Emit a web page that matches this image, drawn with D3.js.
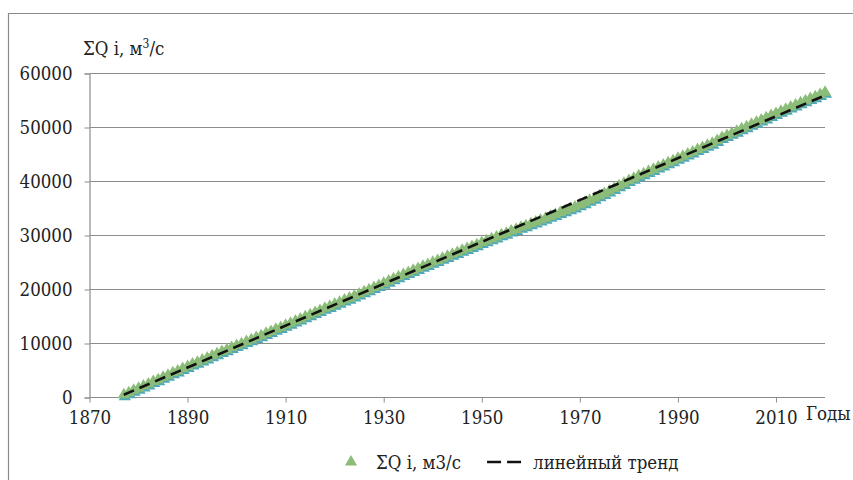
<!DOCTYPE html>
<html>
<head>
<meta charset="utf-8">
<script src="https://cdn.jsdelivr.net/npm/d3@7"></script>
<style>
  body { margin: 0; background: #fff; }
</style>
</head>
<body>
<div id="chart"></div>
<script>
// years of the series
var years = d3.range(1877, 2021);
// cumulative discharge ΣQ i, m3/s
var sumQ = [
  400, 780, 1230, 1600, 2050, 2420, 2860, 3200, 3650, 4020,
  4480, 4830, 5260, 5640, 6100, 6420, 6870, 7230, 7640, 7990,
  8420, 8760, 9180, 9520, 9870, 10280, 10610, 11020, 11360, 11780,
  12120, 12530, 12880, 13300, 13650, 14080, 14450, 14860, 15220, 15650,
  16010, 16420, 16780, 17200, 17540, 17960, 18310, 18720, 19080, 19500,
  19850, 20280, 20640, 21080, 21460, 21910, 22260, 22690, 23040, 23450,
  23790, 24210, 24550, 24960, 25290, 25710, 26040, 26440, 26770, 27180,
  27500, 27890, 28210, 28600, 28930, 29320, 29640, 30030, 30340, 30730,
  31040, 31420, 31730, 32100, 32420, 32790, 33100, 33480, 33790, 34170,
  34480, 34880, 35200, 35620, 35980, 36430, 36800, 37280, 37680, 38160,
  38600, 39120, 39560, 40080, 40500, 40960, 41340, 41780, 42150, 42580,
  42950, 43390, 43760, 44200, 44570, 45010, 45380, 45820, 46190, 46640,
  47010, 47480, 48050, 48430, 48860, 49230, 49670, 50040, 50490, 50860,
  51310, 51690, 52140, 52500, 52930, 53290, 53720, 54080, 54490, 54850,
  55260, 55620, 56030, 56420
];
var xTicks = [1870, 1890, 1910, 1930, 1950, 1970, 1990, 2010];
var yTicks = [0, 10000, 20000, 30000, 40000, 50000, 60000];
var seriesName = "ΣQ i, м3/с";
var trendName = "линейный тренд";

var W = 853, H = 480;
var FONT = "DejaVu Serif Condensed, DejaVu Serif, serif";
var svg = d3.select("#chart").append("svg")
    .attr("width", W).attr("height", H)
    .style("font-family", FONT);

// pick a font size so that "60000" is about as wide as in the picture
var probe = svg.append("text").style("font-size", "20px").text("60000");
var fs = Math.min(20, 20 * 53 / probe.node().getComputedTextLength());
probe.remove();
var FS = fs.toFixed(1) + "px";

// outer frame (only top and left visible in the picture)
svg.append("path")
    .attr("d", "M8.5," + H + "V13.5H" + W)
    .attr("fill", "none").attr("stroke", "#8a8a8a").attr("stroke-width", 1.2);

var x = d3.scaleLinear().domain([1870, 2020]).range([89.5, 825]);
var y = d3.scaleLinear().domain([0, 60000]).range([397, 73]);

// horizontal grid
svg.append("g").selectAll("line")
    .data(yTicks.slice(1))
    .enter().append("line")
    .attr("x1", x(1870)).attr("x2", x(2020))
    .attr("y1", function (d) { return Math.round(y(d)) + 0.5; })
    .attr("y2", function (d) { return Math.round(y(d)) + 0.5; })
    .attr("stroke", "#8c8c8c").attr("stroke-width", 1);

var yAxis = svg.append("g")
    .attr("transform", "translate(" + x(1870) + ",0.5)")
    .call(d3.axisLeft(y).tickValues(yTicks).tickSize(5).tickPadding(12).tickFormat(d3.format("d")));
var xAxis = svg.append("g")
    .attr("transform", "translate(0," + (y(0) + 0.5) + ")")
    .call(d3.axisBottom(x).tickValues(xTicks).tickSize(5).tickPadding(8).tickFormat(d3.format("d")));
[yAxis, xAxis].forEach(function (a) {
  a.attr("font-family", null).attr("font-size", null);
  a.select(".domain").attr("stroke", "#8c8c8c").attr("stroke-width", 1.2);
  a.selectAll(".tick line").attr("stroke", "#8c8c8c");
  a.selectAll(".tick text").style("font-size", FS).attr("fill", "#222");
});
xAxis.select(".domain").attr("d", "M" + x(1870) + ",0H" + x(2020));

// axis titles
svg.append("text").attr("x", 83).attr("y", 55).style("font-size", FS).attr("fill", "#222")
    .html('ΣQ i, м<tspan dy="-7" style="font-size:' + (fs * 0.65).toFixed(1) + 'px">3</tspan><tspan dy="7">/с</tspan>');
svg.append("text").attr("x", 806).attr("y", 420).style("font-size", FS).attr("fill", "#222").text("Годы");

// markers
var tri = d3.symbol().type(d3.symbolTriangle).size(64);
var pts = years.map(function (yr, i) { return [yr, sumQ[i]]; });
svg.append("g").selectAll("path")
    .data(pts).enter().append("path")
    .attr("d", tri)
    .attr("transform", function (d) { return "translate(" + (x(d[0]) + 1) + "," + (y(d[1]) + 2) + ")"; })
    .attr("fill", "#4fa9b8");
svg.append("g").selectAll("path")
    .data(pts).enter().append("path")
    .attr("d", tri)
    .attr("transform", function (d) { return "translate(" + x(d[0]) + "," + y(d[1]) + ")"; })
    .attr("fill", "#8cbd78");

// least squares linear trend
var mx = d3.mean(years), my = d3.mean(sumQ);
var sxy = d3.sum(years, function (v, i) { return (v - mx) * (sumQ[i] - my); });
var sxx = d3.sum(years, function (v) { return (v - mx) * (v - mx); });
var slope = sxy / sxx, icpt = my - slope * mx;
var ends = [years[0], years[years.length - 1]];
svg.append("path")
    .datum(ends)
    .attr("d", d3.line().x(function (d) { return x(d); }).y(function (d) { return y(icpt + slope * d); }))
    .attr("fill", "none").attr("stroke", "#111").attr("stroke-width", 2.6)
    .attr("stroke-dasharray", "11,6");

// legend, laid out left to right
var lg = svg.append("g").attr("transform", "translate(0,462)");
lg.append("path").attr("d", tri).attr("transform", "translate(351,0)").attr("fill", "#8cbd78");
var t1 = lg.append("text").attr("x", 376).attr("y", 7).style("font-size", FS).attr("fill", "#222").text(seriesName);
var lx = 376 + t1.node().getComputedTextLength() + 26;
lg.append("line").attr("x1", lx).attr("x2", lx + 34).attr("y1", 0).attr("y2", 0)
    .attr("stroke", "#111").attr("stroke-width", 2.6).attr("stroke-dasharray", "14,6");
lg.append("text").attr("x", lx + 46).attr("y", 7).style("font-size", FS).attr("fill", "#222").text(trendName);
</script>
</body>
</html>
